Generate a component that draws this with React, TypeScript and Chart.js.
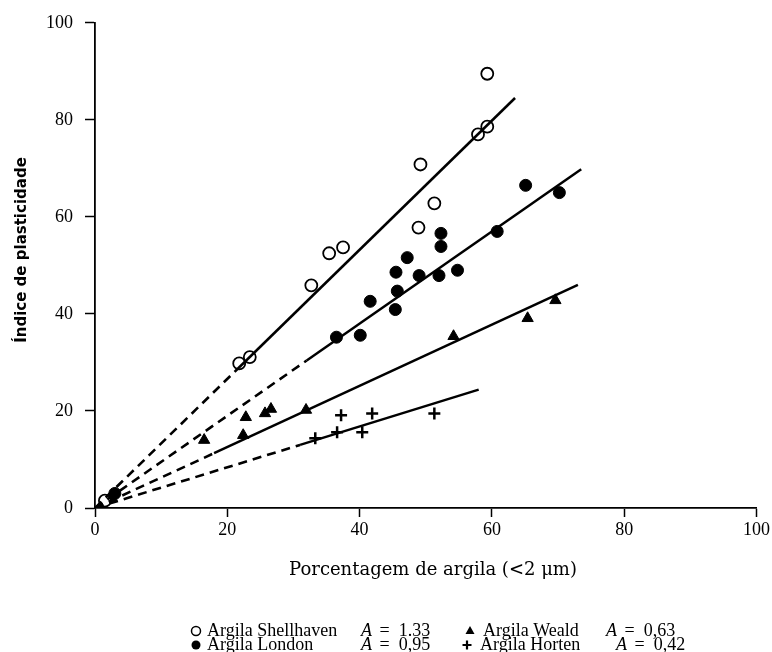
import React, { useEffect, useRef } from "react";
import { Chart, registerables } from "chart.js";

Chart.register(...registerables);

// Argila Shellhaven (open circles)
const shellX = [1.5, 21.8, 23.4, 32.7, 35.4, 37.5, 48.9, 49.2, 51.3, 57.9, 59.3, 59.3];
const shellY = [1.5, 29.8, 31.1, 45.9, 52.5, 53.7, 57.8, 70.8, 62.8, 77.0, 78.6, 89.5];
// Argila London (filled circles)
const londonX = [3, 36.5, 40.1, 41.6, 45.5, 45.7, 45.4, 47.2, 49.0, 52.0, 52.3, 52.3, 54.8, 60.8, 65.1, 70.2];
const londonY = [3, 35.2, 35.6, 42.6, 48.6, 44.7, 40.9, 51.6, 47.9, 47.9, 53.9, 56.6, 49.0, 57.0, 66.5, 65.0];
// Argila Weald (triangles)
const wealdX = [2.5, 16.5, 22.4, 22.8, 25.7, 26.6, 31.9, 54.2, 65.4, 69.6];
const wealdY = [2, 14.0, 15.0, 18.7, 19.5, 20.4, 20.2, 35.4, 39.1, 42.8];
// Argila Horten (crosses)
const hortenX = [33.3, 36.6, 37.2, 40.4, 41.9, 51.3];
const hortenY = [14.4, 15.6, 19.1, 15.6, 19.5, 19.5];

// Fitted lines: [origin, end of dashed part, end of solid part]
const shellFitX = [0, 21.5, 63.5];
const shellFitY = [0, 28.6, 84.5];
const londonFitX = [0, 32, 73.5];
const londonFitY = [0, 30.4, 69.8];
const wealdFitX = [0, 18, 73];
const wealdFitY = [0, 11.3, 46.0];
const hortenFitX = [0, 31, 58];
const hortenFitY = [0, 13.0, 24.4];

const xTicks = [0, 20, 40, 60, 80, 100];
const yTicks = [0, 20, 40, 60, 80, 100];

const legendItems = [
  { name: "Argila Shellhaven", a: "1.33", marker: "open" },
  { name: "Argila London", a: "0,95", marker: "filled" },
  { name: "Argila Weald", a: "0,63", marker: "triangle" },
  { name: "Argila Horten", a: "0,42", marker: "cross" },
];

const xTitle = "Porcentagem de argila (<2 \u03bcm)";
const yTitle = "\u00cdndice de plasticidade";

const pts = (xs: number[], ys: number[]) => xs.map((x, i) => ({ x, y: ys[i] }));

const SERIF = '"Liberation Serif", "Times New Roman", serif';

const overlayPlugin = {
  id: "overlay",
  afterDraw(chart: any) {
    const ctx = chart.ctx as CanvasRenderingContext2D;
    ctx.save();
    ctx.fillStyle = "#000";
    ctx.strokeStyle = "#000";
    // x title
    ctx.font = '18px "DejaVu Serif", serif';
    ctx.textAlign = "center";
    ctx.textBaseline = "middle";
    ctx.fillText(xTitle, 433, 570);
    // y title
    ctx.save();
    ctx.translate(22, 250);
    ctx.rotate(-Math.PI / 2);
    ctx.font = 'bold 15px "DejaVu Sans", sans-serif';
    ctx.fillText(yTitle, 0, 0);
    ctx.restore();

    // legend
    const layout = [
      { item: legendItems[0], y: 631, mx: 196, tx: 207, ax: 361 },
      { item: legendItems[1], y: 645, mx: 196, tx: 207, ax: 361 },
      { item: legendItems[2], y: 631, mx: 470, tx: 483, ax: 606 },
      { item: legendItems[3], y: 645, mx: 467, tx: 480, ax: 616 },
    ];
    ctx.textAlign = "left";
    ctx.textBaseline = "middle";
    for (const l of layout) {
      const y = l.y;
      const mx = l.mx;
      ctx.lineWidth = 1.5;
      if (l.item.marker === "open") {
        ctx.beginPath();
        ctx.arc(mx, y, 4.5, 0, Math.PI * 2);
        ctx.fillStyle = "#fff";
        ctx.fill();
        ctx.stroke();
      } else if (l.item.marker === "filled") {
        ctx.beginPath();
        ctx.arc(mx, y, 4.5, 0, Math.PI * 2);
        ctx.fillStyle = "#000";
        ctx.fill();
      } else if (l.item.marker === "triangle") {
        ctx.beginPath();
        ctx.moveTo(mx, y - 5);
        ctx.lineTo(mx + 4.5, y + 3);
        ctx.lineTo(mx - 4.5, y + 3);
        ctx.closePath();
        ctx.fillStyle = "#000";
        ctx.fill();
      } else {
        ctx.lineWidth = 2.2;
        ctx.beginPath();
        ctx.moveTo(mx - 4.5, y);
        ctx.lineTo(mx + 4.5, y);
        ctx.moveTo(mx, y - 4.5);
        ctx.lineTo(mx, y + 4.5);
        ctx.stroke();
      }
      ctx.fillStyle = "#000";
      ctx.font = "18px " + SERIF;
      ctx.fillText(l.item.name, l.tx, y);
      ctx.font = "italic 18px " + SERIF;
      ctx.fillText("A", l.ax, y);
      const aw = ctx.measureText("A").width;
      ctx.font = "18px " + SERIF;
      ctx.fillText(" =  " + l.item.a, l.ax + aw + 3, y);
    }
    ctx.restore();
  },
};

export default function App() {
  const ref = useRef<HTMLCanvasElement | null>(null);
  useEffect(() => {
    if (!ref.current) return;
    const lineDs = (xs: number[], ys: number[]) => [
      {
        type: "line" as const,
        data: pts(xs.slice(0, 2), ys.slice(0, 2)),
        borderColor: "#000",
        borderWidth: 2.6,
        borderDash: [9, 6],
        pointRadius: 0,
        showLine: true,
        fill: false,
      },
      {
        type: "line" as const,
        data: pts(xs.slice(1), ys.slice(1)),
        borderColor: "#000",
        borderWidth: 2.5,
        pointRadius: 0,
        showLine: true,
        fill: false,
      },
    ];
    const chart = new Chart(ref.current, {
      type: "scatter",
      data: {
        datasets: [
          ...lineDs(shellFitX, shellFitY),
          ...lineDs(londonFitX, londonFitY),
          ...lineDs(wealdFitX, wealdFitY),
          ...lineDs(hortenFitX, hortenFitY),
          {
            label: "Argila Shellhaven",
            data: pts(shellX, shellY),
            pointStyle: "circle",
            pointRadius: 6,
            backgroundColor: "#fff",
            borderColor: "#000",
            borderWidth: 1.8,
          },
          {
            label: "Argila London",
            data: pts(londonX, londonY),
            pointStyle: "circle",
            pointRadius: 6,
            backgroundColor: "#000",
            borderColor: "#000",
            borderWidth: 1,
          },
          {
            label: "Argila Weald",
            data: pts(wealdX, wealdY),
            pointStyle: "triangle",
            pointRadius: 6.5,
            backgroundColor: "#000",
            borderColor: "#000",
            borderWidth: 1,
          },
          {
            label: "Argila Horten",
            data: pts(hortenX, hortenY),
            pointStyle: "cross",
            pointRadius: 6,
            backgroundColor: "#000",
            borderColor: "#000",
            borderWidth: 2.5,
          },
        ] as any,
      },
      options: {
        animation: false,
        responsive: false,
        maintainAspectRatio: false,
        layout: { padding: { left: 0, right: 15, top: 22, bottom: 0 } },
        plugins: {
          legend: { display: false },
          tooltip: { enabled: false },
        },
        scales: {
          x: {
            type: "linear",
            min: 0,
            max: 100,
            afterBuildTicks: (s: any) => {
              s.ticks = xTicks.map((v) => ({ value: v }));
            },
            afterFit: (s: any) => {
              s.height = 144;
            },
            grid: {
              drawOnChartArea: false,
              drawTicks: true,
              tickLength: 9,
              tickColor: "#000",
              tickWidth: 1.5,
            },
            border: { display: true, color: "#000", width: 1.8 },
            ticks: {
              color: "#000",
              padding: 2,
              font: { family: SERIF, size: 18 },
            },
          },
          y: {
            type: "linear",
            min: 0,
            max: 100,
            afterBuildTicks: (s: any) => {
              s.ticks = yTicks.map((v) => ({ value: v }));
            },
            afterFit: (s: any) => {
              s.width = 95;
            },
            grid: {
              drawOnChartArea: false,
              drawTicks: true,
              tickLength: 10,
              tickColor: "#000",
              tickWidth: 1.5,
            },
            border: { display: true, color: "#000", width: 1.8 },
            ticks: {
              color: "#000",
              padding: 12,
              font: { family: SERIF, size: 18 },
            },
          },
        },
      },
      plugins: [overlayPlugin],
    } as any);
    return () => chart.destroy();
  }, []);
  return (
    <div style={{ position: "absolute", left: 0, top: 0, width: 772, height: 652, background: "#fff" }}>
      <canvas ref={ref} width={772} height={652} />
    </div>
  );
}
